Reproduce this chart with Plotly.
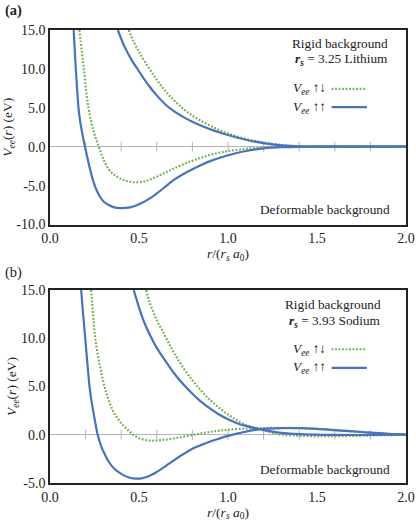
import plotly.graph_objects as go

# ---------------- data ----------------
r_ticks_zero = [0.2, 0.4, 0.6, 0.8, 1.0, 1.2, 1.4, 1.6, 1.8]

# Panel (a): r_s = 3.25 Lithium
a_ud_rigid_r = [0.442, 0.47, 0.50, 0.55, 0.60, 0.65, 0.70, 0.75, 0.80, 0.85, 0.90, 0.95, 1.0,
                1.1, 1.2, 1.3, 1.4, 1.5, 1.7, 2.0]
a_ud_rigid_v = [15, 13.5, 12.2, 10.3, 8.6, 7.1, 5.9, 4.85, 4.0, 3.3, 2.7, 2.15, 1.7,
                1.0, 0.55, 0.22, 0.06, 0.01, 0, 0]
a_ud_def_r = [0.165, 0.19, 0.216, 0.245, 0.274, 0.30, 0.33, 0.36, 0.40, 0.44, 0.48, 0.52, 0.56,
              0.60, 0.65, 0.70, 0.75, 0.80, 0.85, 0.90, 0.95, 1.0, 1.1, 1.2, 1.3, 1.4, 1.5, 2.0]
a_ud_def_v = [15, 10, 5, 2.0, 0, -1.6, -2.9, -3.6, -4.15, -4.45, -4.57, -4.5, -4.25,
              -3.85, -3.3, -2.75, -2.25, -1.8, -1.4, -1.05, -0.78, -0.56, -0.27, -0.09, -0.02, 0, 0, 0]
a_uu_rigid_r = [0.381, 0.42, 0.46, 0.50, 0.55, 0.60, 0.65, 0.70, 0.75, 0.80, 0.85, 0.90, 0.95, 1.0,
                1.1, 1.2, 1.3, 1.4, 1.5, 1.7, 2.0]
a_uu_rigid_v = [15, 12.8, 11.1, 9.7, 8.0, 6.6, 5.4, 4.5, 3.8, 3.2, 2.7, 2.25, 1.85, 1.5,
                0.9, 0.45, 0.18, 0.05, 0.01, 0, 0]
a_uu_def_r = [0.133, 0.139, 0.145, 0.152, 0.16, 0.17, 0.18, 0.19, 0.20, 0.22, 0.24, 0.26, 0.28, 0.30,
              0.33, 0.36, 0.40, 0.45, 0.50, 0.55, 0.60, 0.65, 0.70, 0.75, 0.80, 0.85, 0.90, 0.95,
              1.0, 1.1, 1.2, 1.3, 1.4, 1.5, 1.7, 2.0]
a_uu_def_v = [15, 12.5, 10, 7.5, 5, 3.2, 1.9, 0.7, -0.4, -2.4, -4.2, -5.5, -6.4, -7.0,
              -7.5, -7.8, -7.9, -7.8, -7.4, -6.8, -6.0, -5.1, -4.2, -3.5, -2.9, -2.35, -1.85, -1.45,
              -1.1, -0.55, -0.22, -0.07, -0.01, 0, 0, 0]

# Panel (b): r_s = 3.93 Sodium
b_ud_rigid_r = [0.54, 0.56, 0.585, 0.61, 0.634, 0.67, 0.70, 0.75, 0.80, 0.85, 0.90, 0.95, 1.0,
                1.05, 1.1, 1.15, 1.2, 1.25, 1.3, 1.4, 1.5, 1.6, 1.7, 1.8, 1.9, 2.0]
b_ud_rigid_v = [15, 13.7, 12.5, 11.5, 10.7, 9.4, 8.4, 6.9, 5.65, 4.55, 3.6, 2.8, 2.1,
                1.5, 1.0, 0.7, 0.45, 0.2, 0.03, -0.1, -0.15, -0.15, -0.12, -0.08, -0.04, 0]
b_ud_def_r = [0.231, 0.242, 0.254, 0.28, 0.306, 0.33, 0.353, 0.38, 0.41, 0.44, 0.465, 0.50, 0.54,
              0.57, 0.61, 0.65, 0.70, 0.75, 0.80, 0.85, 0.90, 0.95, 1.0, 1.1, 1.2, 1.3, 1.4,
              1.5, 1.6, 1.7, 1.8, 1.9, 2.0]
b_ud_def_v = [15, 12.4, 10, 7.2, 5.0, 3.6, 2.5, 1.7, 1.0, 0.45, 0.05, -0.35, -0.56,
              -0.62, -0.58, -0.5, -0.36, -0.2, -0.02, 0.15, 0.3, 0.42, 0.52, 0.64, 0.7, 0.72, 0.69,
              0.61, 0.49, 0.36, 0.23, 0.1, 0.03]
b_uu_rigid_r = [0.47, 0.49, 0.512, 0.535, 0.56, 0.60, 0.65, 0.70, 0.75, 0.80, 0.85, 0.90, 0.95,
                1.0, 1.05, 1.1, 1.15, 1.2, 1.25, 1.3, 1.4, 1.5, 1.6, 1.8, 2.0]
b_uu_rigid_v = [15, 13.8, 12.5, 11.4, 10.4, 9.0, 7.6, 6.3, 5.2, 4.25, 3.4, 2.7, 2.1,
                1.6, 1.2, 0.92, 0.7, 0.5, 0.33, 0.2, 0.06, 0.01, -0.02, -0.02, 0]
b_uu_def_r = [0.175, 0.186, 0.198, 0.21, 0.222, 0.235, 0.25, 0.268, 0.29, 0.31, 0.33, 0.36, 0.40,
              0.44, 0.48, 0.52, 0.56, 0.60, 0.65, 0.70, 0.75, 0.80, 0.85, 0.90, 0.95, 1.0, 1.05,
              1.1, 1.15, 1.2, 1.3, 1.4, 1.5, 1.6, 1.7, 1.8, 1.9, 2.0]
b_uu_def_v = [15, 12.5, 10, 7.4, 5.0, 3.3, 1.7, 0, -1.3, -2.1, -2.8, -3.5, -4.05,
              -4.4, -4.55, -4.5, -4.25, -3.85, -3.25, -2.6, -2.0, -1.45, -1.05, -0.7, -0.4, -0.12, 0.12,
              0.33, 0.5, 0.6, 0.68, 0.68, 0.6, 0.48, 0.35, 0.22, 0.1, 0.02]

x_tickvals = [0.0, 0.5, 1.0, 1.5, 2.0]
x_ticktext = ["0.0", "0.5", "1.0", "1.5", "2.0"]
a_y_tickvals = [15, 10, 5, 0, -5, -10]
a_y_ticktext = ["15.0", "10.0", "5.0", "0.0", "-5.0", "-10.0"]
b_y_tickvals = [15, 10, 5, 0, -5]
b_y_ticktext = ["15.0", "10.0", "5.0", "0.0", "-5.0"]

# ---------------- styles ----------------
BLUE = "#4472C4"
GREEN = "#72B045"
GRAY = "#b4b4b4"
INK = "#222222"
FONT = "Liberation Serif, DejaVu Serif, serif"
DOT = "1.8px,1.7px"

fig = go.Figure()

def add_panel(xa, ya, curves):
    fig.add_trace(go.Scatter(x=r_ticks_zero, y=[0] * len(r_ticks_zero), xaxis=xa, yaxis=ya,
                             mode="markers", hoverinfo="skip", showlegend=False,
                             marker=dict(symbol="line-ns", size=7, color=GRAY,
                                         line=dict(color=GRAY, width=1))))
    for (rr, vv, color, dash, name) in curves:
        fig.add_trace(go.Scatter(x=rr, y=vv, xaxis=xa, yaxis=ya, mode="lines", name=name,
                                 showlegend=False,
                                 line=dict(color=color, width=2.2, dash=dash,
                                           shape="spline", smoothing=1.0)))

add_panel("x", "y", [
    (a_ud_rigid_r, a_ud_rigid_v, GREEN, DOT, "Vee ↑↓ rigid"),
    (a_ud_def_r, a_ud_def_v, GREEN, DOT, "Vee ↑↓ deformable"),
    (a_uu_rigid_r, a_uu_rigid_v, BLUE, "solid", "Vee ↑↑ rigid"),
    (a_uu_def_r, a_uu_def_v, BLUE, "solid", "Vee ↑↑ deformable"),
])
add_panel("x2", "y2", [
    (b_ud_rigid_r, b_ud_rigid_v, GREEN, DOT, "Vee ↑↓ rigid"),
    (b_ud_def_r, b_ud_def_v, GREEN, DOT, "Vee ↑↓ deformable"),
    (b_uu_rigid_r, b_uu_rigid_v, BLUE, "solid", "Vee ↑↑ rigid"),
    (b_uu_def_r, b_uu_def_v, BLUE, "solid", "Vee ↑↑ deformable"),
])

axis_common = dict(showline=True, linecolor=INK, linewidth=1.6, mirror=True, automargin=False,
                   showgrid=False, ticks="", tickfont=dict(family=FONT, size=14, color=INK))
xtitle = "<i>r</i>/(<i>r</i><sub><i>s</i></sub> <i>a</i><sub>0</sub>)"
ytitle = "<i>V</i><sub><i>ee</i></sub>(<i>r</i>) (eV)"
tfont = dict(family=FONT, size=13.5, color=INK)

fig.update_layout(
    width=416, height=526,
    margin=dict(l=50, r=10, t=30, b=43, autoexpand=False),
    plot_bgcolor="white", paper_bgcolor="white",
    font=dict(family=FONT, size=13, color=INK),
    xaxis=dict(domain=[0, 1], range=[0, 2], tickvals=x_tickvals, ticktext=x_ticktext,
               anchor="y", zeroline=False,
               title=dict(text=xtitle, font=tfont, standoff=3), **axis_common),
    yaxis=dict(domain=[0.5706, 1], range=[-10, 15], tickvals=a_y_tickvals, ticktext=a_y_ticktext,
               anchor="x", zeroline=True, zerolinecolor=GRAY, zerolinewidth=1,
               title=dict(text=ytitle, font=tfont, standoff=1), **axis_common),
    xaxis2=dict(domain=[0, 1], range=[0, 2], tickvals=x_tickvals, ticktext=x_ticktext,
                anchor="y2", zeroline=False,
                title=dict(text=xtitle, font=tfont, standoff=3), **axis_common),
    yaxis2=dict(domain=[0, 0.426], range=[-5, 15], tickvals=b_y_tickvals, ticktext=b_y_ticktext,
                anchor="x2", zeroline=True, zerolinecolor=GRAY, zerolinewidth=1,
                title=dict(text=ytitle, font=tfont, standoff=1), **axis_common),
)

# ---------------- annotations: panel labels, text, legend ----------------
def ann(text, x, y, xref, yref, xanchor="center", size=13.3, bold=False):
    fig.add_annotation(text=("<b>%s</b>" % text) if bold else text, x=x, y=y, xref=xref, yref=yref,
                       xanchor=xanchor, yanchor="middle", showarrow=False,
                       font=dict(family=FONT, size=size, color=INK))

ann("(a)", -0.133, 1.044, "paper", "paper", xanchor="left", size=14.5, bold=True)
ann("(b)", -0.133, 0.464, "paper", "paper", xanchor="left", size=14.5)

panels = [
    ("x domain", "y domain", "3.25 Lithium", 0.814, 0.929, 0.82, 0.848, 0.697, 0.604, 0.075),
    ("x2 domain", "y2 domain", "3.93 Sodium", 0.795, 0.926, 0.80, 0.839, 0.693, 0.597, 0.071),
]
rs = "<b><i>r</i></b><sub><b><i>s</i></b></sub>"
vee = "<i>V</i><sub><i>ee</i></sub>"
for (xr, yr, metal, rgx, rgy, rsx, rsy, l1y, l2y, dfy) in panels:
    ann("Rigid background", rgx, rgy, xr, yr)
    ann(rs + " = " + metal, rsx, rsy, xr, yr)
    ann(vee + " ↑↓", 0.782, l1y, xr, yr, xanchor="right")
    ann(vee + " ↑↑", 0.782, l2y, xr, yr, xanchor="right")
    ann("Deformable background", 0.962, dfy, xr, yr, xanchor="right")
    fig.add_shape(type="line", xref=xr, yref=yr, x0=0.791, x1=0.887, y0=l1y, y1=l1y,
                  line=dict(color=GREEN, width=2.2, dash=DOT))
    fig.add_shape(type="line", xref=xr, yref=yr, x0=0.791, x1=0.89, y0=l2y, y1=l2y,
                  line=dict(color=BLUE, width=2.2))

fig.write_html("out.html", config={"displayModeBar": False},
               post_script="document.body.style.margin='0px';document.body.style.overflow='hidden';")
